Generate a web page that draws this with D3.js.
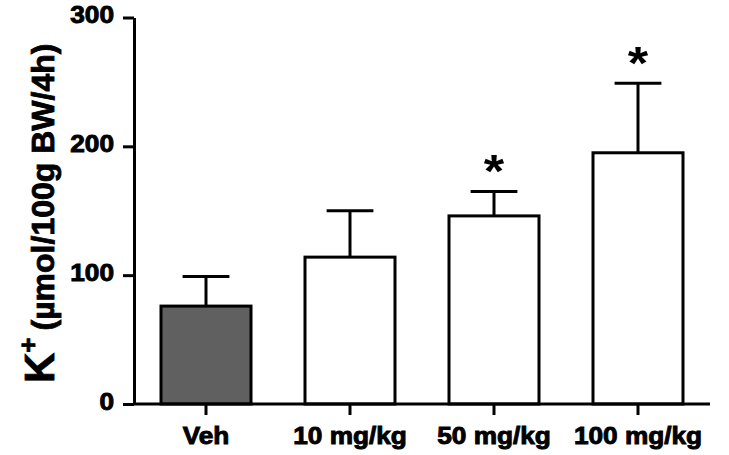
<!DOCTYPE html>
<html>
<head>
<meta charset="utf-8">
<script src="https://cdn.jsdelivr.net/npm/d3@7"></script>
<style>
  body { margin: 0; background: #fff; }
  text { font-family: "Liberation Sans", Arial, sans-serif; font-weight: bold; fill: #000; }
</style>
</head>
<body>
<svg id="chart" width="729" height="455"></svg>
<script>
// data
var groups = ["Veh", "10 mg/kg", "50 mg/kg", "100 mg/kg"];
var means = [76, 114, 146, 195];
var errors = [23, 36, 19, 54];
var significant = [false, false, true, true];
var yTicks = [0, 100, 200, 300];

var data = groups.map(function (g, i) {
    return { name: g, mean: means[i], err: errors[i], sig: significant[i], index: i };
});

var svg = d3.select("#chart");
var sx = 1.14; // glyphs in the source are a bit wide

var x = d3.scaleBand()
    .domain(groups)
    .range([134, 710])
    .paddingInner(0.375)
    .paddingOuter(0.1875);

var y = d3.scaleLinear()
    .domain([0, 300])
    .range([404, 17.5]);

// bars
var bars = svg.append("g").attr("class", "bars");
bars.selectAll("rect")
    .data(data)
    .join("rect")
    .attr("x", d => x(d.name))
    .attr("y", d => y(d.mean))
    .attr("width", x.bandwidth())
    .attr("height", d => y(0) - y(d.mean))
    .attr("fill", d => d.index == 0 ? "#606060" : "#fff")
    .attr("stroke", "#000")
    .attr("stroke-width", 3);

// error bars (upper only)
var capW = x.bandwidth() * 0.52;
var err = svg.append("g").attr("class", "errors")
    .attr("stroke", "#000")
    .attr("stroke-width", 3);
err.selectAll("line.stem")
    .data(data)
    .join("line")
    .attr("class", "stem")
    .attr("x1", d => x(d.name) + x.bandwidth() / 2)
    .attr("x2", d => x(d.name) + x.bandwidth() / 2)
    .attr("y1", d => y(d.mean))
    .attr("y2", d => y(d.mean + d.err));
err.selectAll("line.cap")
    .data(data)
    .join("line")
    .attr("class", "cap")
    .attr("x1", d => x(d.name) + x.bandwidth() / 2 - capW / 2)
    .attr("x2", d => x(d.name) + x.bandwidth() / 2 + capW / 2)
    .attr("y1", d => y(d.mean + d.err))
    .attr("y2", d => y(d.mean + d.err));

// asterisks
svg.append("g").selectAll("text")
    .data(data.filter(d => d.sig))
    .join("text")
    .attr("transform", d => `translate(${x(d.name) + x.bandwidth() / 2},${y(d.mean + d.err) - 4}) scale(${sx},1)`)
    .attr("text-anchor", "middle")
    .style("font-size", "46px")
    .text("*");

function boldText(sel, size) {
    sel.attr("fill", "#000")
        .attr("stroke", "#000")
        .attr("stroke-width", 0.9)
        .style("font-size", size)
        .style("font-family", "'Liberation Sans', Arial, sans-serif")
        .style("font-weight", "bold");
}

// y axis
var yAxis = svg.append("g")
    .attr("transform", "translate(134,0)")
    .call(d3.axisLeft(y).tickValues(yTicks).tickSize(11).tickPadding(8).tickSizeOuter(0));
yAxis.select(".domain").attr("stroke-width", 3);
yAxis.selectAll(".tick line").attr("stroke-width", 3);
yAxis.selectAll(".tick text")
    .attr("x", null).attr("dy", null)
    .attr("transform", `translate(-20,5) scale(${sx},1)`)
    .call(boldText, "23px");

// x axis
var xAxis = svg.append("g")
    .attr("transform", "translate(0,404)")
    .call(d3.axisBottom(x).tickSize(11).tickSizeOuter(0).tickPadding(10));
xAxis.select(".domain").attr("stroke-width", 3).attr("d", "M134,0H710");
xAxis.selectAll(".tick line").attr("stroke-width", 3);
xAxis.selectAll(".tick text")
    .attr("y", null).attr("dy", null)
    .attr("transform", `translate(0,39.5) scale(${sx},1)`)
    .call(boldText, "23px");

// y axis title
var title = svg.append("text")
    .attr("transform", "translate(54,383) rotate(-90)")
    .attr("text-anchor", "start")
    .attr("stroke", "#000")
    .attr("stroke-width", 0.8);
title.append("tspan").style("font-size", "42px").text("K");
title.append("tspan").style("font-size", "26px").attr("dy", -17).text("+");
title.append("tspan").style("font-size", "32px").attr("dy", 17).attr("dx", 7).text("(µmol/100g BW/4h)");
</script>
</body>
</html>
